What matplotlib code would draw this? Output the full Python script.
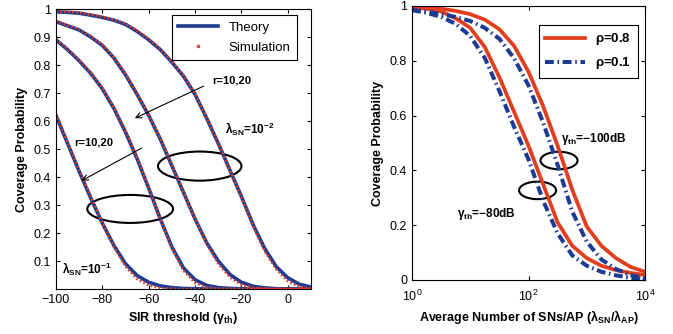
import matplotlib
matplotlib.use("Agg")
import matplotlib.pyplot as plt
from matplotlib.lines import Line2D
from matplotlib.patches import Ellipse
from matplotlib.ticker import FixedLocator, NullLocator

plt.rcParams['font.family'] = ['Liberation Sans', 'DejaVu Sans']
plt.rcParams['mathtext.default'] = 'regular'

# ---- left panel: coverage vs SIR threshold (dB) ----
sir_db = [-100, -95, -90, -85, -80, -75, -70, -65, -60, -55, -50, -45,
          -40, -35, -30, -25, -20, -15, -10, -5, 0, 5, 10]

# lambda_SN = 1e-1, r = 20 / r = 10
theory_a = [0.62, 0.52, 0.42, 0.325, 0.235, 0.155, 0.09, 0.048, 0.024, 0.011, 0.005, 0.002,
            0.001, 0, 0, 0, 0, 0, 0, 0, 0, 0, 0]
sim_a = [0.625, 0.525, 0.425, 0.33, 0.235, 0.15, 0.08, 0.035, 0.013, 0.004, 0.001, 0,
         0, 0, 0, 0, 0, 0, 0, 0, 0, 0, 0]
theory_b = [0.89, 0.855, 0.815, 0.77, 0.715, 0.645, 0.56, 0.465, 0.36, 0.25, 0.15, 0.075,
            0.033, 0.013, 0.005, 0.002, 0.001, 0, 0, 0, 0, 0, 0]
sim_b = [0.892, 0.857, 0.818, 0.773, 0.718, 0.648, 0.565, 0.47, 0.362, 0.25, 0.145, 0.065,
         0.022, 0.006, 0.001, 0, 0, 0, 0, 0, 0, 0, 0]
# lambda_SN = 1e-2, r = 20 / r = 10
theory_c = [0.955, 0.94, 0.925, 0.9, 0.87, 0.825, 0.765, 0.695, 0.62, 0.535, 0.44, 0.345,
            0.25, 0.165, 0.1, 0.052, 0.024, 0.01, 0.004, 0.001, 0, 0, 0]
sim_c = [0.957, 0.942, 0.927, 0.903, 0.873, 0.828, 0.768, 0.698, 0.623, 0.538, 0.443, 0.347,
         0.25, 0.16, 0.09, 0.042, 0.015, 0.004, 0.001, 0, 0, 0, 0]
theory_d = [0.99, 0.988, 0.985, 0.978, 0.97, 0.96, 0.945, 0.92, 0.89, 0.855, 0.81, 0.76,
            0.695, 0.61, 0.52, 0.425, 0.33, 0.23, 0.145, 0.08, 0.04, 0.017, 0.007]
sim_d = [0.992, 0.99, 0.987, 0.98, 0.972, 0.962, 0.948, 0.923, 0.893, 0.858, 0.813, 0.763,
         0.698, 0.613, 0.522, 0.425, 0.327, 0.225, 0.135, 0.07, 0.028, 0.008, 0.002]

left_xticks = [-100, -80, -60, -40, -20, 0]
left_yticks = [0.1, 0.2, 0.3, 0.4, 0.5, 0.6, 0.7, 0.8, 0.9, 1.0]
left_yticklabels = ['0.1', '0.2', '0.3', '0.4', '0.5', '0.6', '0.7', '0.8', '0.9', '1']

# ---- right panel: coverage vs SNs per AP ----
sn_per_ap = [10 ** e for e in [0, 0.25, 0.5, 0.75, 1.0, 1.25, 1.5, 1.75, 2.0,
                               2.25, 2.5, 2.75, 3.0, 3.25, 3.5, 3.75, 4.0]]
rho08_100db = [0.997, 0.994, 0.99, 0.982, 0.97, 0.95, 0.915, 0.855, 0.76,
               0.635, 0.49, 0.33, 0.195, 0.125, 0.08, 0.048, 0.03]
rho08_80db = [0.995, 0.99, 0.98, 0.955, 0.92, 0.85, 0.74, 0.615, 0.49,
              0.35, 0.21, 0.125, 0.08, 0.052, 0.036, 0.026, 0.018]
rho01_100db = [0.985, 0.98, 0.97, 0.96, 0.945, 0.92, 0.88, 0.81, 0.71,
               0.575, 0.42, 0.25, 0.14, 0.075, 0.04, 0.018, 0.006]
rho01_80db = [0.985, 0.975, 0.96, 0.935, 0.89, 0.81, 0.69, 0.56, 0.44,
              0.29, 0.17, 0.09, 0.052, 0.03, 0.017, 0.008, 0.003]

right_xticks = [1, 100, 10000]
right_xticklabels = ['$10^{0}$', '$10^{2}$', '$10^{4}$']
right_yticks = [0, 0.2, 0.4, 0.6, 0.8, 1.0]
right_yticklabels = ['0', '0.2', '0.4', '0.6', '0.8', '1']

blue = '#1f3a93'
red = '#e23d1c'
sim_style = (0, (0.7, 0.9))
dashdot = (0, (2.2, 0.9, 0.4, 0.9))

fig = plt.figure(figsize=(6.73, 3.34), dpi=100)
ax1 = fig.add_axes([0.0832, 0.1347, 0.3789, 0.8383])
ax2 = fig.add_axes([0.6122, 0.1617, 0.3462, 0.8204])

for ax in (ax1, ax2):
    ax.tick_params(direction='in', top=True, right=True, length=3, width=0.8, labelsize=9)
    for s in ax.spines.values():
        s.set_linewidth(0.8)

# left
for th in (theory_a, theory_b, theory_c, theory_d):
    ax1.plot(sir_db, th, color=blue, lw=2.6, solid_capstyle='butt')
for sm in (sim_a, sim_b, sim_c, sim_d):
    ax1.plot(sir_db, sm, color=red, lw=1.8, linestyle=sim_style)

ax1.set_xlim(-100, 10)
ax1.set_ylim(0, 1)
ax1.set_xticks(left_xticks)
ax1.set_yticks(left_yticks)
ax1.set_yticklabels(left_yticklabels)
ax1.set_xlabel(r'SIR threshold ($\gamma_{th}$)', fontsize=9, fontweight='bold', labelpad=3)
ax1.set_ylabel('Coverage Probability', fontsize=9, fontweight='bold', labelpad=4)

h1 = [Line2D([], [], color=blue, lw=2.6),
      Line2D([], [], color=red, ls='none', marker='.', markersize=3)]
ax1.legend(h1, ['Theory', 'Simulation'], loc='upper right', bbox_to_anchor=(0.945, 0.979),
           fontsize=9.5, fancybox=False, framealpha=1, edgecolor='black',
           handlelength=3.0, borderaxespad=0, borderpad=0.5, labelspacing=0.6)
ax1.get_legend().get_frame().set_linewidth(0.8)

ax1.add_patch(Ellipse((-38.0, 0.439), 36, 0.104, fill=False, lw=1.5, color='black'))
ax1.add_patch(Ellipse((-68.0, 0.286), 37, 0.100, fill=False, lw=1.5, color='black'))
ax1.annotate('', xy=(-67.1, 0.606), xytext=(-35.2, 0.729),
             arrowprops=dict(arrowstyle='->', lw=0.8, color='black'))
ax1.annotate('', xy=(-90.0, 0.382), xytext=(-62.0, 0.508),
             arrowprops=dict(arrowstyle='->', lw=0.8, color='black'))
ax1.text(-24.3, 0.743, 'r=10,20', fontsize=8, fontweight='bold', ha='center', va='center')
ax1.text(-83.7, 0.525, 'r=10,20', fontsize=8, fontweight='bold', ha='center', va='center')
ax1.text(-16.3, 0.571, r'$\lambda_{SN}$=10$^{-2}$', fontsize=8.5, fontweight='bold',
         ha='center', va='center')
ax1.text(-86.7, 0.071, r'$\lambda_{SN}$=10$^{-1}$', fontsize=8.5, fontweight='bold',
         ha='center', va='center')

# right
ax2.plot(sn_per_ap, rho08_100db, color=red, lw=2.7)
ax2.plot(sn_per_ap, rho08_80db, color=red, lw=2.7)
ax2.plot(sn_per_ap, rho01_100db, color=blue, lw=2.9, linestyle=dashdot)
ax2.plot(sn_per_ap, rho01_80db, color=blue, lw=2.9, linestyle=dashdot)

ax2.set_xscale('log')
ax2.set_xlim(1, 10000)
ax2.set_ylim(0, 1)
ax2.xaxis.set_major_locator(FixedLocator(right_xticks))
ax2.xaxis.set_minor_locator(NullLocator())
ax2.set_xticklabels(right_xticklabels)
ax2.set_yticks(right_yticks)
ax2.set_yticklabels(right_yticklabels)
ax2.tick_params(axis='x', pad=6)
ax2.set_xlabel(r'Average Number of SNs/AP ($\lambda_{SN}$/$\lambda_{AP}$)', fontsize=9,
               fontweight='bold', labelpad=3)
ax2.set_ylabel('Coverage Probability', fontsize=9, fontweight='bold', labelpad=4)

h2 = [Line2D([], [], color=red, lw=2.7),
      Line2D([], [], color=blue, lw=2.9, linestyle=dashdot)]
ax2.legend(h2, [r'$\rho$=0.8', r'$\rho$=0.1'], loc='upper right', bbox_to_anchor=(0.970, 0.931),
           prop={'size': 9.5, 'weight': 'bold'}, fancybox=False, framealpha=1,
           edgecolor='black', handlelength=3.0, borderaxespad=0, borderpad=0.5,
           labelspacing=0.6)
ax2.get_legend().get_frame().set_linewidth(0.8)

ax2.add_patch(Ellipse((0.631, 0.436), 0.159, 0.064, transform=ax2.transAxes,
                      fill=False, lw=1.5, color='black'))
ax2.add_patch(Ellipse((0.539, 0.327), 0.159, 0.064, transform=ax2.transAxes,
                      fill=False, lw=1.5, color='black'))
ax2.text(10 ** 3.116, 0.515, r'$\gamma_{th}$=−100dB', fontsize=8.5, fontweight='bold',
         ha='center', va='center')
ax2.text(10 ** 1.282, 0.241, r'$\gamma_{th}$=−80dB', fontsize=8.5, fontweight='bold',
         ha='center', va='center')

plt.savefig('out.png', dpi=100)
